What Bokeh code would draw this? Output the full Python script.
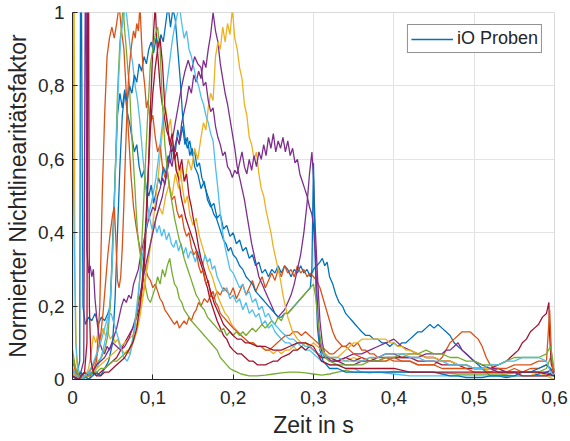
from bokeh.plotting import figure
from bokeh.models import Range1d, FixedTicker, CustomJSTickFormatter, Legend, LegendItem
from bokeh.embed import file_html
from bokeh.resources import INLINE

# ---- data: (time in s, normalised nonlinearity factor) ----
blue_a = [(0.000,0.02),(0.005,0.01),(0.009,0.05),(0.010,1.10),(0.011,1.10),(0.013,0.20),(0.016,0.15),(0.020,0.17),(0.024,0.16),(0.028,0.18),(0.032,0.15),(0.036,0.17),(0.040,0.16),(0.044,0.18),(0.047,0.20),(0.050,0.38),(0.053,0.55),(0.056,0.72),(0.059,0.78),(0.062,0.74),(0.065,0.79),(0.068,0.73),(0.071,0.70),(0.074,0.66),(0.077,0.62),(0.080,0.64),(0.083,0.58),(0.086,0.55),(0.089,0.57),(0.092,0.52),(0.095,0.50),(0.098,0.53),(0.101,0.48),(0.104,0.51),(0.107,0.55),(0.110,0.53),(0.113,0.58),(0.116,0.56),(0.119,0.61),(0.122,0.59),(0.125,0.64),(0.128,0.62),(0.131,0.68),(0.134,0.65),(0.137,0.69),(0.140,0.64),(0.143,0.66),(0.146,0.61),(0.149,0.63),(0.152,0.58),(0.156,0.56),(0.160,0.52),(0.164,0.54),(0.168,0.49),(0.172,0.47),(0.176,0.48),(0.180,0.44),(0.184,0.45),(0.188,0.41),(0.192,0.42),(0.196,0.39),(0.200,0.40),(0.204,0.37),(0.208,0.38),(0.212,0.35),(0.216,0.36),(0.220,0.33),(0.224,0.34),(0.228,0.31),(0.232,0.32),(0.236,0.29),(0.240,0.30),(0.244,0.28),(0.248,0.30),(0.252,0.29),(0.256,0.31),(0.260,0.29),(0.264,0.31),(0.268,0.30),(0.272,0.28),(0.276,0.30),(0.280,0.29),(0.284,0.31),(0.288,0.29),(0.292,0.30),(0.296,0.28),(0.300,0.30),(0.304,0.31),(0.308,0.32),(0.311,0.33),(0.314,0.31),(0.317,0.32),(0.320,0.28),(0.324,0.26),(0.328,0.23),(0.332,0.21),(0.336,0.20),(0.340,0.18),(0.344,0.17),(0.348,0.16),(0.352,0.15),(0.356,0.14),(0.360,0.13),(0.365,0.12),(0.370,0.12),(0.375,0.11),(0.380,0.11),(0.385,0.10),(0.390,0.10),(0.395,0.09),(0.400,0.10),(0.405,0.09),(0.410,0.10),(0.415,0.10),(0.420,0.11),(0.425,0.12),(0.430,0.13),(0.435,0.13),(0.440,0.14),(0.445,0.15),(0.450,0.14),(0.455,0.15),(0.460,0.14),(0.465,0.13),(0.470,0.12),(0.475,0.10),(0.480,0.09),(0.485,0.08),(0.490,0.07),(0.495,0.06),(0.500,0.05),(0.505,0.04),(0.510,0.03),(0.515,0.02),(0.520,0.01),(0.530,0.01),(0.540,0.005),(0.550,0.01),(0.560,0.01),(0.570,0.01),(0.580,0.015),(0.590,0.02),(0.600,0.01)]

orange_a = [(0.000,0.03),(0.005,0.01),(0.010,0.00),(0.015,0.01),(0.020,0.00),(0.025,0.02),(0.030,0.05),(0.034,0.20),(0.037,0.50),(0.040,0.72),(0.043,0.88),(0.046,0.93),(0.049,0.96),(0.052,0.93),(0.055,0.97),(0.058,1.02),(0.061,0.95),(0.064,0.90),(0.067,0.78),(0.070,0.66),(0.073,0.55),(0.076,0.47),(0.079,0.42),(0.082,0.38),(0.085,0.35),(0.088,0.33),(0.091,0.30),(0.094,0.28),(0.097,0.27),(0.100,0.25),(0.103,0.26),(0.106,0.24),(0.109,0.22),(0.112,0.21),(0.115,0.19),(0.118,0.18),(0.121,0.17),(0.124,0.16),(0.127,0.15),(0.130,0.16),(0.133,0.14),(0.136,0.15),(0.139,0.16),(0.142,0.15),(0.145,0.17),(0.148,0.16),(0.151,0.18),(0.154,0.19),(0.157,0.21),(0.160,0.20),(0.164,0.22),(0.168,0.21),(0.172,0.23),(0.176,0.22),(0.180,0.24),(0.184,0.23),(0.188,0.25),(0.192,0.24),(0.196,0.23),(0.200,0.25),(0.204,0.22),(0.208,0.24),(0.212,0.26),(0.216,0.23),(0.220,0.25),(0.224,0.27),(0.228,0.24),(0.232,0.26),(0.236,0.28),(0.240,0.25),(0.244,0.27),(0.248,0.29),(0.252,0.27),(0.256,0.30),(0.260,0.28),(0.264,0.31),(0.268,0.29),(0.272,0.30),(0.276,0.28),(0.280,0.31),(0.284,0.29),(0.288,0.30),(0.292,0.28),(0.296,0.29),(0.300,0.28),(0.304,0.27),(0.308,0.25),(0.312,0.22),(0.316,0.19),(0.320,0.16),(0.324,0.13),(0.328,0.11),(0.332,0.10),(0.336,0.09),(0.340,0.09),(0.345,0.10),(0.350,0.09),(0.355,0.10),(0.360,0.08),(0.365,0.08),(0.370,0.07),(0.375,0.07),(0.380,0.06),(0.390,0.06),(0.400,0.05),(0.410,0.05),(0.420,0.05),(0.430,0.04),(0.440,0.04),(0.450,0.04),(0.455,0.05),(0.460,0.06),(0.465,0.08),(0.470,0.10),(0.475,0.11),(0.480,0.12),(0.485,0.13),(0.490,0.13),(0.495,0.13),(0.500,0.12),(0.505,0.11),(0.510,0.09),(0.515,0.06),(0.520,0.04),(0.525,0.03),(0.530,0.03),(0.540,0.02),(0.550,0.03),(0.560,0.02),(0.570,0.03),(0.580,0.03),(0.590,0.04),(0.600,0.02)]

yellow_a = [(0.000,0.05),(0.001,1.10),(0.002,1.10),(0.003,0.30),(0.005,0.05),(0.008,0.01),(0.012,0.00),(0.016,0.01),(0.020,0.03),(0.023,0.07),(0.026,0.12),(0.029,0.10),(0.032,0.13),(0.035,0.11),(0.038,0.14),(0.041,0.12),(0.044,0.13),(0.047,0.11),(0.050,0.12),(0.053,0.10),(0.056,0.11),(0.059,0.09),(0.062,0.08),(0.065,0.07),(0.068,0.08),(0.071,0.07),(0.074,0.09),(0.077,0.11),(0.080,0.13),(0.083,0.16),(0.086,0.20),(0.089,0.24),(0.092,0.29),(0.095,0.33),(0.098,0.38),(0.101,0.44),(0.104,0.50),(0.107,0.56),(0.110,0.63),(0.113,0.70),(0.116,0.74),(0.119,0.68),(0.122,0.71),(0.125,0.64),(0.128,0.60),(0.131,0.55),(0.134,0.58),(0.137,0.52),(0.140,0.48),(0.143,0.50),(0.146,0.45),(0.150,0.42),(0.154,0.44),(0.158,0.39),(0.162,0.36),(0.166,0.33),(0.170,0.30),(0.174,0.28),(0.178,0.25),(0.182,0.22),(0.186,0.20),(0.190,0.18),(0.194,0.17),(0.198,0.15),(0.202,0.14),(0.206,0.13),(0.210,0.12),(0.215,0.11),(0.220,0.10),(0.225,0.10),(0.230,0.09),(0.235,0.09),(0.240,0.08),(0.245,0.08),(0.250,0.07),(0.255,0.08),(0.260,0.07),(0.265,0.08),(0.270,0.08),(0.275,0.09),(0.280,0.08),(0.285,0.09),(0.290,0.10),(0.295,0.09),(0.300,0.08),(0.305,0.07),(0.310,0.06),(0.320,0.06),(0.330,0.05),(0.340,0.05),(0.350,0.06),(0.360,0.05),(0.370,0.06),(0.380,0.05),(0.390,0.05),(0.400,0.06),(0.410,0.06),(0.420,0.07),(0.430,0.07),(0.440,0.06),(0.450,0.06),(0.460,0.05),(0.470,0.05),(0.480,0.04),(0.490,0.04),(0.500,0.03),(0.510,0.03),(0.520,0.02),(0.530,0.02),(0.540,0.01),(0.550,0.01),(0.560,0.01),(0.570,0.01),(0.580,0.02),(0.590,0.01),(0.600,0.01)]

purple_a = [(0.000,0.02),(0.008,0.00),(0.014,0.05),(0.016,1.10),(0.017,1.10),(0.018,0.35),(0.020,0.29),(0.022,0.31),(0.024,0.28),(0.026,0.30),(0.028,0.22),(0.031,0.15),(0.034,0.10),(0.037,0.08),(0.040,0.07),(0.043,0.09),(0.046,0.08),(0.049,0.10),(0.052,0.12),(0.055,0.14),(0.058,0.17),(0.061,0.20),(0.064,0.22),(0.067,0.21),(0.070,0.23),(0.073,0.22),(0.076,0.26),(0.079,0.28),(0.082,0.30),(0.085,0.34),(0.088,0.37),(0.091,0.40),(0.094,0.43),(0.097,0.45),(0.100,0.47),(0.103,0.46),(0.106,0.50),(0.109,0.52),(0.112,0.55),(0.115,0.53),(0.118,0.57),(0.121,0.60),(0.124,0.58),(0.127,0.63),(0.130,0.66),(0.133,0.64),(0.136,0.70),(0.139,0.73),(0.142,0.76),(0.145,0.80),(0.148,0.78),(0.151,0.83),(0.154,0.81),(0.157,0.84),(0.160,0.82),(0.163,0.87),(0.166,0.85),(0.169,0.90),(0.172,0.94),(0.175,1.00),(0.178,0.95),(0.181,0.92),(0.184,0.86),(0.187,0.82),(0.190,0.78),(0.193,0.75),(0.196,0.71),(0.199,0.67),(0.202,0.63),(0.205,0.58),(0.208,0.55),(0.211,0.52),(0.214,0.49),(0.217,0.45),(0.220,0.41),(0.223,0.37),(0.226,0.34),(0.229,0.31),(0.232,0.28),(0.236,0.26),(0.240,0.24),(0.244,0.22),(0.248,0.20),(0.252,0.18),(0.256,0.17),(0.260,0.18),(0.264,0.19),(0.268,0.21),(0.272,0.23),(0.276,0.26),(0.280,0.30),(0.284,0.34),(0.288,0.40),(0.292,0.48),(0.295,0.56),(0.298,0.62),(0.300,0.55),(0.302,0.42),(0.305,0.28),(0.308,0.16),(0.311,0.10),(0.314,0.07),(0.318,0.06),(0.322,0.05),(0.330,0.05),(0.340,0.06),(0.350,0.07),(0.360,0.07),(0.370,0.08),(0.380,0.09),(0.390,0.10),(0.400,0.11),(0.405,0.10),(0.410,0.09),(0.420,0.08),(0.430,0.07),(0.440,0.06),(0.450,0.06),(0.460,0.05),(0.470,0.05),(0.480,0.04),(0.490,0.04),(0.500,0.03),(0.510,0.03),(0.520,0.03),(0.530,0.03),(0.540,0.02),(0.550,0.02),(0.560,0.02),(0.570,0.02),(0.580,0.02),(0.590,0.02),(0.600,0.03)]

green_a = [(0.000,0.08),(0.004,0.03),(0.008,0.01),(0.012,0.00),(0.016,0.01),(0.020,0.02),(0.024,0.02),(0.028,0.03),(0.032,0.05),(0.036,0.06),(0.040,0.08),(0.044,0.12),(0.047,0.20),(0.050,0.35),(0.053,0.55),(0.056,0.78),(0.059,0.92),(0.061,0.96),(0.063,1.02),(0.065,0.95),(0.067,0.90),(0.069,0.84),(0.071,0.80),(0.073,0.70),(0.075,0.62),(0.077,0.55),(0.079,0.47),(0.081,0.40),(0.083,0.36),(0.085,0.33),(0.088,0.28),(0.091,0.25),(0.094,0.22),(0.097,0.21),(0.100,0.23),(0.103,0.25),(0.106,0.28),(0.109,0.26),(0.112,0.30),(0.115,0.28),(0.118,0.31),(0.121,0.33),(0.124,0.29),(0.127,0.26),(0.130,0.25),(0.133,0.22),(0.136,0.21),(0.139,0.19),(0.142,0.18),(0.145,0.17),(0.148,0.16),(0.152,0.15),(0.156,0.14),(0.160,0.13),(0.164,0.12),(0.168,0.11),(0.172,0.10),(0.176,0.09),(0.180,0.08),(0.184,0.06),(0.188,0.05),(0.192,0.04),(0.196,0.03),(0.200,0.025),(0.205,0.02),(0.210,0.015),(0.220,0.01),(0.230,0.01),(0.240,0.012),(0.250,0.015),(0.260,0.018),(0.270,0.02),(0.280,0.02),(0.290,0.018),(0.300,0.015),(0.310,0.012),(0.320,0.015),(0.330,0.02),(0.340,0.025),(0.350,0.02),(0.360,0.02),(0.370,0.018),(0.380,0.02),(0.390,0.02),(0.400,0.022),(0.420,0.02),(0.440,0.02),(0.460,0.018),(0.480,0.015),(0.500,0.015),(0.520,0.015),(0.540,0.015),(0.560,0.02),(0.580,0.02),(0.590,0.03),(0.595,0.06),(0.600,0.02)]

lightblue_a = [(0.000,0.73),(0.002,0.40),(0.004,0.10),(0.007,0.03),(0.010,0.01),(0.014,0.00),(0.018,0.01),(0.022,0.02),(0.026,0.01),(0.030,0.03),(0.034,0.05),(0.038,0.08),(0.042,0.12),(0.045,0.17),(0.048,0.25),(0.051,0.40),(0.054,0.60),(0.057,0.80),(0.060,0.93),(0.063,0.98),(0.066,1.02),(0.069,0.96),(0.072,0.90),(0.075,0.86),(0.078,0.80),(0.081,0.76),(0.084,0.70),(0.087,0.62),(0.090,0.55),(0.093,0.48),(0.096,0.44),(0.099,0.41),(0.102,0.43),(0.105,0.40),(0.108,0.42),(0.111,0.39),(0.114,0.41),(0.117,0.38),(0.120,0.40),(0.123,0.37),(0.126,0.36),(0.129,0.38),(0.132,0.35),(0.135,0.37),(0.138,0.34),(0.141,0.36),(0.144,0.33),(0.147,0.35),(0.150,0.34),(0.153,0.32),(0.156,0.35),(0.159,0.33),(0.162,0.31),(0.165,0.34),(0.168,0.32),(0.171,0.33),(0.174,0.30),(0.177,0.31),(0.180,0.28),(0.184,0.26),(0.188,0.24),(0.192,0.25),(0.196,0.22),(0.200,0.23),(0.204,0.21),(0.208,0.22),(0.212,0.19),(0.216,0.21),(0.220,0.18),(0.224,0.19),(0.228,0.17),(0.232,0.18),(0.236,0.15),(0.240,0.16),(0.244,0.14),(0.248,0.15),(0.252,0.13),(0.256,0.12),(0.260,0.11),(0.265,0.10),(0.270,0.10),(0.275,0.09),(0.280,0.10),(0.285,0.09),(0.290,0.08),(0.295,0.08),(0.300,0.07),(0.305,0.06),(0.310,0.05),(0.320,0.04),(0.330,0.04),(0.340,0.03),(0.350,0.03),(0.360,0.02),(0.380,0.02),(0.400,0.015),(0.420,0.01),(0.440,0.01),(0.460,0.01),(0.480,0.01),(0.500,0.01),(0.520,0.01),(0.540,0.01),(0.560,0.01),(0.580,0.01),(0.600,0.01)]

darkred_a = [(0.000,0.02),(0.005,0.01),(0.010,0.00),(0.015,0.01),(0.020,0.01),(0.025,0.02),(0.030,0.01),(0.035,0.02),(0.040,0.03),(0.045,0.04),(0.050,0.05),(0.055,0.06),(0.060,0.08),(0.065,0.10),(0.070,0.12),(0.075,0.14),(0.080,0.17),(0.084,0.20),(0.087,0.25),(0.090,0.33),(0.093,0.48),(0.096,0.68),(0.099,0.85),(0.101,0.95),(0.103,1.02),(0.105,0.92),(0.107,0.86),(0.109,0.80),(0.111,0.76),(0.114,0.72),(0.117,0.68),(0.120,0.66),(0.123,0.62),(0.126,0.63),(0.129,0.57),(0.132,0.55),(0.135,0.50),(0.138,0.47),(0.141,0.44),(0.144,0.42),(0.147,0.40),(0.150,0.38),(0.153,0.36),(0.156,0.34),(0.159,0.32),(0.162,0.30),(0.165,0.27),(0.168,0.25),(0.171,0.22),(0.174,0.20),(0.177,0.18),(0.180,0.16),(0.184,0.14),(0.188,0.12),(0.192,0.11),(0.196,0.09),(0.200,0.08),(0.205,0.07),(0.210,0.07),(0.215,0.06),(0.220,0.05),(0.225,0.05),(0.230,0.04),(0.235,0.04),(0.240,0.04),(0.245,0.045),(0.250,0.05),(0.255,0.05),(0.260,0.06),(0.265,0.065),(0.270,0.07),(0.275,0.08),(0.280,0.08),(0.285,0.09),(0.290,0.08),(0.295,0.09),(0.300,0.08),(0.305,0.07),(0.310,0.06),(0.320,0.06),(0.330,0.05),(0.340,0.06),(0.350,0.05),(0.360,0.06),(0.370,0.05),(0.380,0.06),(0.390,0.07),(0.400,0.07),(0.410,0.06),(0.420,0.06),(0.430,0.05),(0.440,0.05),(0.450,0.05),(0.460,0.04),(0.470,0.04),(0.480,0.04),(0.490,0.03),(0.500,0.03),(0.510,0.03),(0.520,0.03),(0.530,0.04),(0.540,0.05),(0.550,0.07),(0.555,0.08),(0.560,0.10),(0.565,0.11),(0.570,0.13),(0.575,0.14),(0.580,0.15),(0.585,0.17),(0.590,0.18),(0.592,0.20),(0.593,0.21),(0.594,0.12),(0.596,0.04),(0.600,0.02)]

blue_b = [(0.000,0.01),(0.005,0.00),(0.010,0.02),(0.015,0.01),(0.020,0.00),(0.025,0.01),(0.030,0.02),(0.035,0.01),(0.040,0.03),(0.045,0.05),(0.050,0.10),(0.053,0.22),(0.056,0.40),(0.059,0.58),(0.062,0.72),(0.065,0.78),(0.068,0.76),(0.071,0.80),(0.074,0.78),(0.077,0.83),(0.080,0.81),(0.083,0.86),(0.086,0.84),(0.089,0.88),(0.092,0.86),(0.095,0.90),(0.098,0.92),(0.101,0.89),(0.104,0.93),(0.107,0.91),(0.110,0.94),(0.113,0.92),(0.116,0.97),(0.119,1.02),(0.122,0.96),(0.125,1.01),(0.128,0.98),(0.131,0.90),(0.134,0.82),(0.137,0.72),(0.140,0.66),(0.143,0.63),(0.146,0.65),(0.149,0.61),(0.152,0.62),(0.155,0.58),(0.158,0.59),(0.161,0.55),(0.164,0.53),(0.167,0.51),(0.170,0.49),(0.173,0.47),(0.176,0.45),(0.179,0.44),(0.182,0.42),(0.185,0.40),(0.188,0.38),(0.191,0.37),(0.194,0.35),(0.197,0.36),(0.200,0.34),(0.204,0.33),(0.208,0.31),(0.212,0.30),(0.216,0.28),(0.220,0.27),(0.224,0.26),(0.228,0.24),(0.232,0.23),(0.236,0.22),(0.240,0.21),(0.244,0.20),(0.248,0.19),(0.252,0.18),(0.256,0.17),(0.260,0.17),(0.264,0.18),(0.268,0.18),(0.272,0.19),(0.276,0.20),(0.280,0.21),(0.284,0.22),(0.288,0.23),(0.292,0.24),(0.296,0.25),(0.298,0.30),(0.299,0.45),(0.300,0.59),(0.301,0.45),(0.303,0.25),(0.305,0.14),(0.308,0.08),(0.312,0.05),(0.316,0.04),(0.320,0.03),(0.330,0.03),(0.340,0.02),(0.350,0.02),(0.360,0.02),(0.370,0.02),(0.380,0.02),(0.390,0.02),(0.400,0.02),(0.420,0.02),(0.440,0.02),(0.450,0.02),(0.460,0.015),(0.470,0.01),(0.480,0.01),(0.490,0.005),(0.500,0.005),(0.510,0.005),(0.520,0.01),(0.530,0.01),(0.540,0.01),(0.550,0.01),(0.560,0.02),(0.570,0.02),(0.580,0.03),(0.590,0.04),(0.595,0.03),(0.600,0.01)]

orange_b = [(0.000,0.05),(0.004,0.02),(0.008,0.01),(0.012,0.00),(0.016,0.01),(0.020,0.02),(0.024,0.03),(0.028,0.05),(0.032,0.08),(0.035,0.12),(0.038,0.18),(0.041,0.26),(0.044,0.34),(0.047,0.40),(0.050,0.45),(0.052,0.47),(0.054,0.38),(0.056,0.27),(0.058,0.25),(0.060,0.28),(0.062,0.36),(0.064,0.48),(0.066,0.62),(0.068,0.74),(0.070,0.83),(0.072,0.88),(0.074,0.92),(0.076,0.95),(0.078,0.93),(0.080,0.97),(0.082,0.95),(0.084,1.02),(0.086,0.92),(0.088,0.84),(0.090,0.80),(0.092,0.74),(0.094,0.76),(0.097,0.70),(0.100,0.72),(0.103,0.66),(0.106,0.62),(0.109,0.64),(0.112,0.58),(0.115,0.55),(0.118,0.57),(0.121,0.52),(0.124,0.49),(0.127,0.50),(0.130,0.46),(0.133,0.44),(0.136,0.45),(0.139,0.41),(0.142,0.39),(0.145,0.40),(0.148,0.36),(0.151,0.34),(0.154,0.35),(0.157,0.31),(0.160,0.29),(0.163,0.30),(0.166,0.26),(0.169,0.27),(0.172,0.23),(0.175,0.24),(0.178,0.21),(0.181,0.20),(0.184,0.18),(0.188,0.17),(0.192,0.16),(0.196,0.15),(0.200,0.14),(0.205,0.13),(0.210,0.12),(0.215,0.11),(0.220,0.10),(0.225,0.10),(0.230,0.09),(0.235,0.09),(0.240,0.08),(0.245,0.08),(0.250,0.09),(0.255,0.10),(0.260,0.11),(0.265,0.12),(0.270,0.12),(0.275,0.13),(0.280,0.13),(0.285,0.12),(0.290,0.13),(0.295,0.12),(0.300,0.11),(0.305,0.10),(0.310,0.09),(0.315,0.08),(0.320,0.07),(0.325,0.07),(0.330,0.08),(0.335,0.09),(0.340,0.09),(0.345,0.08),(0.350,0.07),(0.360,0.06),(0.370,0.05),(0.380,0.05),(0.390,0.05),(0.400,0.06),(0.410,0.05),(0.420,0.05),(0.430,0.04),(0.440,0.04),(0.450,0.04),(0.460,0.03),(0.470,0.03),(0.480,0.03),(0.490,0.03),(0.500,0.02),(0.510,0.02),(0.520,0.02),(0.530,0.03),(0.540,0.03),(0.550,0.04),(0.560,0.04),(0.570,0.04),(0.580,0.05),(0.590,0.05),(0.592,0.12),(0.594,0.19),(0.596,0.08),(0.598,0.02),(0.600,0.01)]

yellow_b = [(0.000,0.02),(0.005,0.01),(0.010,0.00),(0.015,0.01),(0.020,0.01),(0.025,0.02),(0.030,0.03),(0.035,0.04),(0.040,0.05),(0.045,0.06),(0.050,0.07),(0.055,0.08),(0.060,0.09),(0.065,0.10),(0.070,0.11),(0.075,0.12),(0.080,0.15),(0.084,0.19),(0.088,0.24),(0.092,0.30),(0.096,0.36),(0.100,0.40),(0.104,0.44),(0.108,0.47),(0.112,0.45),(0.116,0.50),(0.120,0.53),(0.124,0.50),(0.128,0.56),(0.132,0.52),(0.136,0.58),(0.140,0.54),(0.144,0.60),(0.148,0.57),(0.152,0.63),(0.156,0.60),(0.160,0.66),(0.163,0.70),(0.166,0.68),(0.169,0.74),(0.172,0.78),(0.175,0.76),(0.178,0.88),(0.181,0.92),(0.184,0.90),(0.187,0.96),(0.190,0.92),(0.193,0.97),(0.196,0.94),(0.199,1.01),(0.202,0.93),(0.205,0.90),(0.208,0.85),(0.211,0.82),(0.214,0.75),(0.217,0.72),(0.220,0.66),(0.223,0.64),(0.226,0.60),(0.229,0.62),(0.232,0.56),(0.235,0.52),(0.238,0.50),(0.241,0.46),(0.244,0.43),(0.247,0.40),(0.250,0.36),(0.253,0.33),(0.256,0.30),(0.259,0.27),(0.262,0.23),(0.265,0.20),(0.268,0.17),(0.271,0.15),(0.274,0.13),(0.277,0.12),(0.280,0.11),(0.285,0.10),(0.290,0.10),(0.295,0.09),(0.300,0.10),(0.305,0.09),(0.310,0.08),(0.315,0.07),(0.320,0.06),(0.325,0.06),(0.330,0.06),(0.335,0.07),(0.340,0.08),(0.345,0.09),(0.350,0.10),(0.355,0.10),(0.360,0.11),(0.365,0.11),(0.370,0.11),(0.375,0.11),(0.380,0.11),(0.385,0.11),(0.390,0.11),(0.395,0.10),(0.400,0.10),(0.405,0.09),(0.410,0.09),(0.415,0.08),(0.420,0.08),(0.430,0.07),(0.440,0.06),(0.450,0.06),(0.460,0.05),(0.470,0.05),(0.480,0.04),(0.490,0.04),(0.500,0.03),(0.510,0.03),(0.520,0.03),(0.530,0.02),(0.540,0.02),(0.550,0.02),(0.560,0.01),(0.570,0.01),(0.580,0.01),(0.590,0.01),(0.600,0.00)]

purple_b = [(0.000,0.01),(0.005,0.00),(0.010,0.01),(0.015,0.02),(0.020,0.01),(0.025,0.02),(0.030,0.04),(0.035,0.05),(0.040,0.06),(0.045,0.08),(0.050,0.10),(0.055,0.09),(0.060,0.08),(0.065,0.09),(0.070,0.11),(0.075,0.14),(0.080,0.18),(0.085,0.24),(0.090,0.30),(0.095,0.35),(0.100,0.40),(0.104,0.44),(0.108,0.47),(0.112,0.50),(0.116,0.55),(0.120,0.60),(0.124,0.65),(0.128,0.70),(0.132,0.75),(0.136,0.80),(0.140,0.84),(0.144,0.87),(0.148,0.84),(0.152,0.88),(0.156,0.86),(0.160,0.85),(0.163,0.80),(0.166,0.81),(0.169,0.76),(0.172,0.73),(0.175,0.74),(0.178,0.69),(0.181,0.66),(0.184,0.64),(0.187,0.61),(0.190,0.62),(0.193,0.58),(0.196,0.57),(0.199,0.55),(0.202,0.57),(0.205,0.56),(0.208,0.59),(0.211,0.62),(0.214,0.58),(0.217,0.56),(0.220,0.60),(0.223,0.57),(0.226,0.61),(0.229,0.58),(0.232,0.62),(0.235,0.60),(0.238,0.64),(0.241,0.61),(0.244,0.66),(0.247,0.63),(0.250,0.67),(0.253,0.62),(0.256,0.65),(0.259,0.63),(0.262,0.66),(0.265,0.62),(0.268,0.65),(0.271,0.61),(0.274,0.63),(0.277,0.59),(0.280,0.60),(0.283,0.56),(0.286,0.54),(0.289,0.52),(0.292,0.50),(0.295,0.47),(0.298,0.45),(0.300,0.42),(0.302,0.35),(0.304,0.25),(0.306,0.16),(0.308,0.10),(0.311,0.07),(0.315,0.06),(0.320,0.05),(0.330,0.05),(0.340,0.04),(0.350,0.04),(0.360,0.05),(0.370,0.05),(0.380,0.05),(0.390,0.06),(0.400,0.06),(0.410,0.06),(0.420,0.06),(0.430,0.06),(0.440,0.07),(0.450,0.07),(0.460,0.07),(0.465,0.08),(0.470,0.08),(0.475,0.09),(0.480,0.10),(0.485,0.08),(0.490,0.07),(0.495,0.06),(0.500,0.05),(0.510,0.04),(0.520,0.03),(0.530,0.02),(0.540,0.02),(0.550,0.02),(0.560,0.01),(0.570,0.01),(0.580,0.01),(0.590,0.01),(0.600,0.02)]

green_b = [(0.000,0.06),(0.004,0.03),(0.008,0.01),(0.012,0.00),(0.016,0.01),(0.020,0.01),(0.025,0.02),(0.030,0.02),(0.035,0.03),(0.040,0.03),(0.045,0.04),(0.050,0.05),(0.055,0.05),(0.060,0.06),(0.065,0.07),(0.070,0.08),(0.074,0.10),(0.078,0.15),(0.082,0.22),(0.085,0.32),(0.088,0.45),(0.091,0.60),(0.094,0.74),(0.097,0.86),(0.100,0.90),(0.103,0.94),(0.106,0.96),(0.109,0.90),(0.112,0.75),(0.115,0.64),(0.118,0.57),(0.121,0.52),(0.124,0.48),(0.127,0.44),(0.130,0.41),(0.133,0.38),(0.136,0.36),(0.139,0.33),(0.142,0.31),(0.145,0.29),(0.148,0.27),(0.151,0.25),(0.154,0.23),(0.157,0.22),(0.160,0.20),(0.164,0.19),(0.168,0.17),(0.172,0.16),(0.176,0.15),(0.180,0.14),(0.184,0.13),(0.188,0.14),(0.192,0.12),(0.196,0.13),(0.200,0.12),(0.204,0.13),(0.208,0.12),(0.212,0.13),(0.216,0.12),(0.220,0.13),(0.224,0.14),(0.228,0.13),(0.232,0.14),(0.236,0.15),(0.240,0.14),(0.244,0.15),(0.248,0.16),(0.252,0.15),(0.256,0.17),(0.260,0.16),(0.264,0.18),(0.268,0.18),(0.272,0.19),(0.276,0.20),(0.280,0.21),(0.284,0.22),(0.288,0.23),(0.292,0.24),(0.296,0.25),(0.300,0.26),(0.303,0.22),(0.306,0.15),(0.310,0.09),(0.315,0.06),(0.320,0.05),(0.330,0.04),(0.340,0.04),(0.350,0.04),(0.360,0.04),(0.370,0.05),(0.380,0.05),(0.390,0.06),(0.400,0.06),(0.410,0.07),(0.420,0.07),(0.430,0.07),(0.440,0.08),(0.450,0.07),(0.460,0.07),(0.470,0.06),(0.480,0.06),(0.490,0.05),(0.500,0.05),(0.510,0.04),(0.520,0.04),(0.530,0.04),(0.540,0.05),(0.550,0.06),(0.560,0.06),(0.570,0.06),(0.580,0.06),(0.590,0.07),(0.595,0.09),(0.598,0.05),(0.600,0.02)]

lightblue_b = [(0.000,0.03),(0.005,0.01),(0.010,0.00),(0.015,0.01),(0.020,0.02),(0.025,0.04),(0.030,0.07),(0.035,0.10),(0.040,0.14),(0.044,0.17),(0.048,0.18),(0.052,0.15),(0.056,0.12),(0.060,0.09),(0.064,0.06),(0.068,0.05),(0.072,0.07),(0.076,0.12),(0.080,0.20),(0.084,0.28),(0.088,0.35),(0.092,0.42),(0.096,0.46),(0.100,0.50),(0.104,0.55),(0.108,0.62),(0.112,0.70),(0.116,0.78),(0.120,0.85),(0.124,0.92),(0.127,0.96),(0.130,0.99),(0.133,1.02),(0.136,0.97),(0.139,0.93),(0.142,0.95),(0.145,0.90),(0.148,0.88),(0.151,0.85),(0.154,0.82),(0.157,0.80),(0.160,0.77),(0.163,0.75),(0.166,0.72),(0.169,0.70),(0.172,0.67),(0.175,0.65),(0.178,0.58),(0.181,0.52),(0.184,0.45),(0.187,0.40),(0.190,0.36),(0.193,0.33),(0.196,0.30),(0.200,0.29),(0.204,0.27),(0.208,0.25),(0.212,0.26),(0.216,0.23),(0.220,0.24),(0.224,0.21),(0.228,0.22),(0.232,0.19),(0.236,0.20),(0.240,0.17),(0.244,0.18),(0.248,0.16),(0.252,0.15),(0.256,0.14),(0.260,0.13),(0.265,0.12),(0.270,0.11),(0.275,0.11),(0.280,0.10),(0.285,0.10),(0.290,0.09),(0.295,0.09),(0.300,0.08),(0.305,0.07),(0.310,0.07),(0.320,0.06),(0.330,0.06),(0.340,0.05),(0.350,0.05),(0.360,0.05),(0.370,0.06),(0.380,0.06),(0.390,0.07),(0.400,0.07),(0.410,0.07),(0.420,0.06),(0.430,0.06),(0.440,0.05),(0.450,0.05),(0.460,0.05),(0.470,0.04),(0.480,0.04),(0.490,0.04),(0.500,0.03),(0.510,0.03),(0.520,0.04),(0.530,0.04),(0.540,0.05),(0.550,0.05),(0.560,0.06),(0.570,0.06),(0.580,0.06),(0.590,0.05),(0.595,0.02),(0.600,0.01)]

darkred_b = [(0.000,0.01),(0.008,0.00),(0.015,0.02),(0.018,0.10),(0.019,1.10),(0.020,1.10),(0.021,0.20),(0.023,0.05),(0.026,0.02),(0.030,0.01),(0.035,0.01),(0.040,0.02),(0.045,0.02),(0.050,0.03),(0.055,0.04),(0.060,0.05),(0.065,0.06),(0.070,0.08),(0.075,0.10),(0.080,0.14),(0.084,0.20),(0.088,0.30),(0.091,0.42),(0.094,0.55),(0.097,0.68),(0.100,0.78),(0.103,0.85),(0.106,0.90),(0.109,0.93),(0.112,0.86),(0.115,0.74),(0.118,0.70),(0.121,0.64),(0.124,0.67),(0.127,0.60),(0.130,0.62),(0.133,0.57),(0.136,0.60),(0.139,0.54),(0.142,0.56),(0.145,0.50),(0.148,0.47),(0.151,0.43),(0.154,0.40),(0.157,0.36),(0.160,0.33),(0.164,0.30),(0.168,0.27),(0.172,0.24),(0.176,0.21),(0.180,0.19),(0.184,0.17),(0.188,0.15),(0.192,0.14),(0.196,0.13),(0.200,0.12),(0.205,0.11),(0.210,0.11),(0.215,0.10),(0.220,0.10),(0.230,0.09),(0.240,0.09),(0.250,0.08),(0.260,0.08),(0.270,0.09),(0.280,0.10),(0.290,0.10),(0.300,0.09),(0.305,0.07),(0.310,0.05),(0.320,0.04),(0.330,0.04),(0.340,0.03),(0.350,0.03),(0.360,0.03),(0.370,0.03),(0.380,0.03),(0.390,0.03),(0.400,0.03),(0.420,0.02),(0.440,0.02),(0.460,0.02),(0.480,0.02),(0.500,0.02),(0.520,0.02),(0.540,0.02),(0.560,0.02),(0.580,0.02),(0.600,0.01)]

series = [blue_a, orange_a, yellow_a, purple_a, green_a, lightblue_a, darkred_a,
          blue_b, orange_b, yellow_b, purple_b, green_b, lightblue_b, darkred_b]
colors = ["#0072BD", "#D95319", "#EDB120", "#7E2F8E", "#77AC30", "#4DBEEE", "#A2142F"]
x_ticks = [0, 0.1, 0.2, 0.3, 0.4, 0.5, 0.6]
y_ticks = [0, 0.2, 0.4, 0.6, 0.8, 1.0]
legend_text = "iO Proben"
x_label = "Zeit in s"
y_label = "Normierter Nichtlinearitätsfaktor"

FONT = "Liberation Sans"
TXT = "#262626"

p = figure(width=570, height=441, output_backend="svg", toolbar_location=None,
           x_range=Range1d(0, 0.6), y_range=Range1d(0, 1),
           min_border_left=72, min_border_right=16, min_border_top=12, min_border_bottom=62)
p.background_fill_color = "white"
p.border_fill_color = "white"
p.outline_line_color = "#d9d9d9"
p.outline_line_width = 1

first = None
for i, s in enumerate(series):
    ts = [a for a, b in s]
    vs = [b for a, b in s]
    r = p.line(ts, vs, line_color=colors[i % 7], line_width=1.3)
    if i == 0:
        first = r

fmt = CustomJSTickFormatter(code="""
var s = tick.toFixed(1);
if (s.endsWith('.0')) { s = s.slice(0, -2); }
return s.replace('.', ',');
""")

for ax, ticks, lab in ((p.xaxis[0], x_ticks, x_label), (p.yaxis[0], y_ticks, y_label)):
    ax.ticker = FixedTicker(ticks=ticks)
    ax.formatter = fmt
    ax.axis_label = lab
    ax.axis_label_text_font = FONT
    ax.axis_label_text_font_size = "23px"
    ax.axis_label_text_font_style = "normal"
    ax.axis_label_text_color = TXT
    ax.major_label_text_font = FONT
    ax.major_label_text_font_size = "19px"
    ax.major_label_text_color = TXT
    ax.axis_line_color = TXT
    ax.axis_line_width = 1
    ax.major_tick_line_color = TXT
    ax.major_tick_in = 5
    ax.major_tick_out = 0
    ax.minor_tick_line_color = None

p.xaxis.major_label_standoff = 11
p.xaxis.axis_label_standoff = 5
p.yaxis.major_label_standoff = 8
p.yaxis.axis_label_standoff = 4

p.xgrid.grid_line_color = "#e3e3e3"
p.ygrid.grid_line_color = "#e3e3e3"
p.xgrid.ticker = FixedTicker(ticks=x_ticks)
p.ygrid.ticker = FixedTicker(ticks=y_ticks)

legend = Legend(items=[LegendItem(label=legend_text, renderers=[first])],
                location="top_right")
legend.label_text_font = FONT
legend.label_text_font_size = "18px"
legend.label_text_color = TXT
legend.border_line_color = TXT
legend.border_line_width = 1
legend.background_fill_alpha = 1
legend.glyph_width = 42
legend.glyph_height = 20
legend.label_standoff = 4
legend.padding = 3
legend.margin = 12
legend.label_height = 20
p.add_layout(legend)

open("out.html", "w").write(file_html(p, INLINE))
